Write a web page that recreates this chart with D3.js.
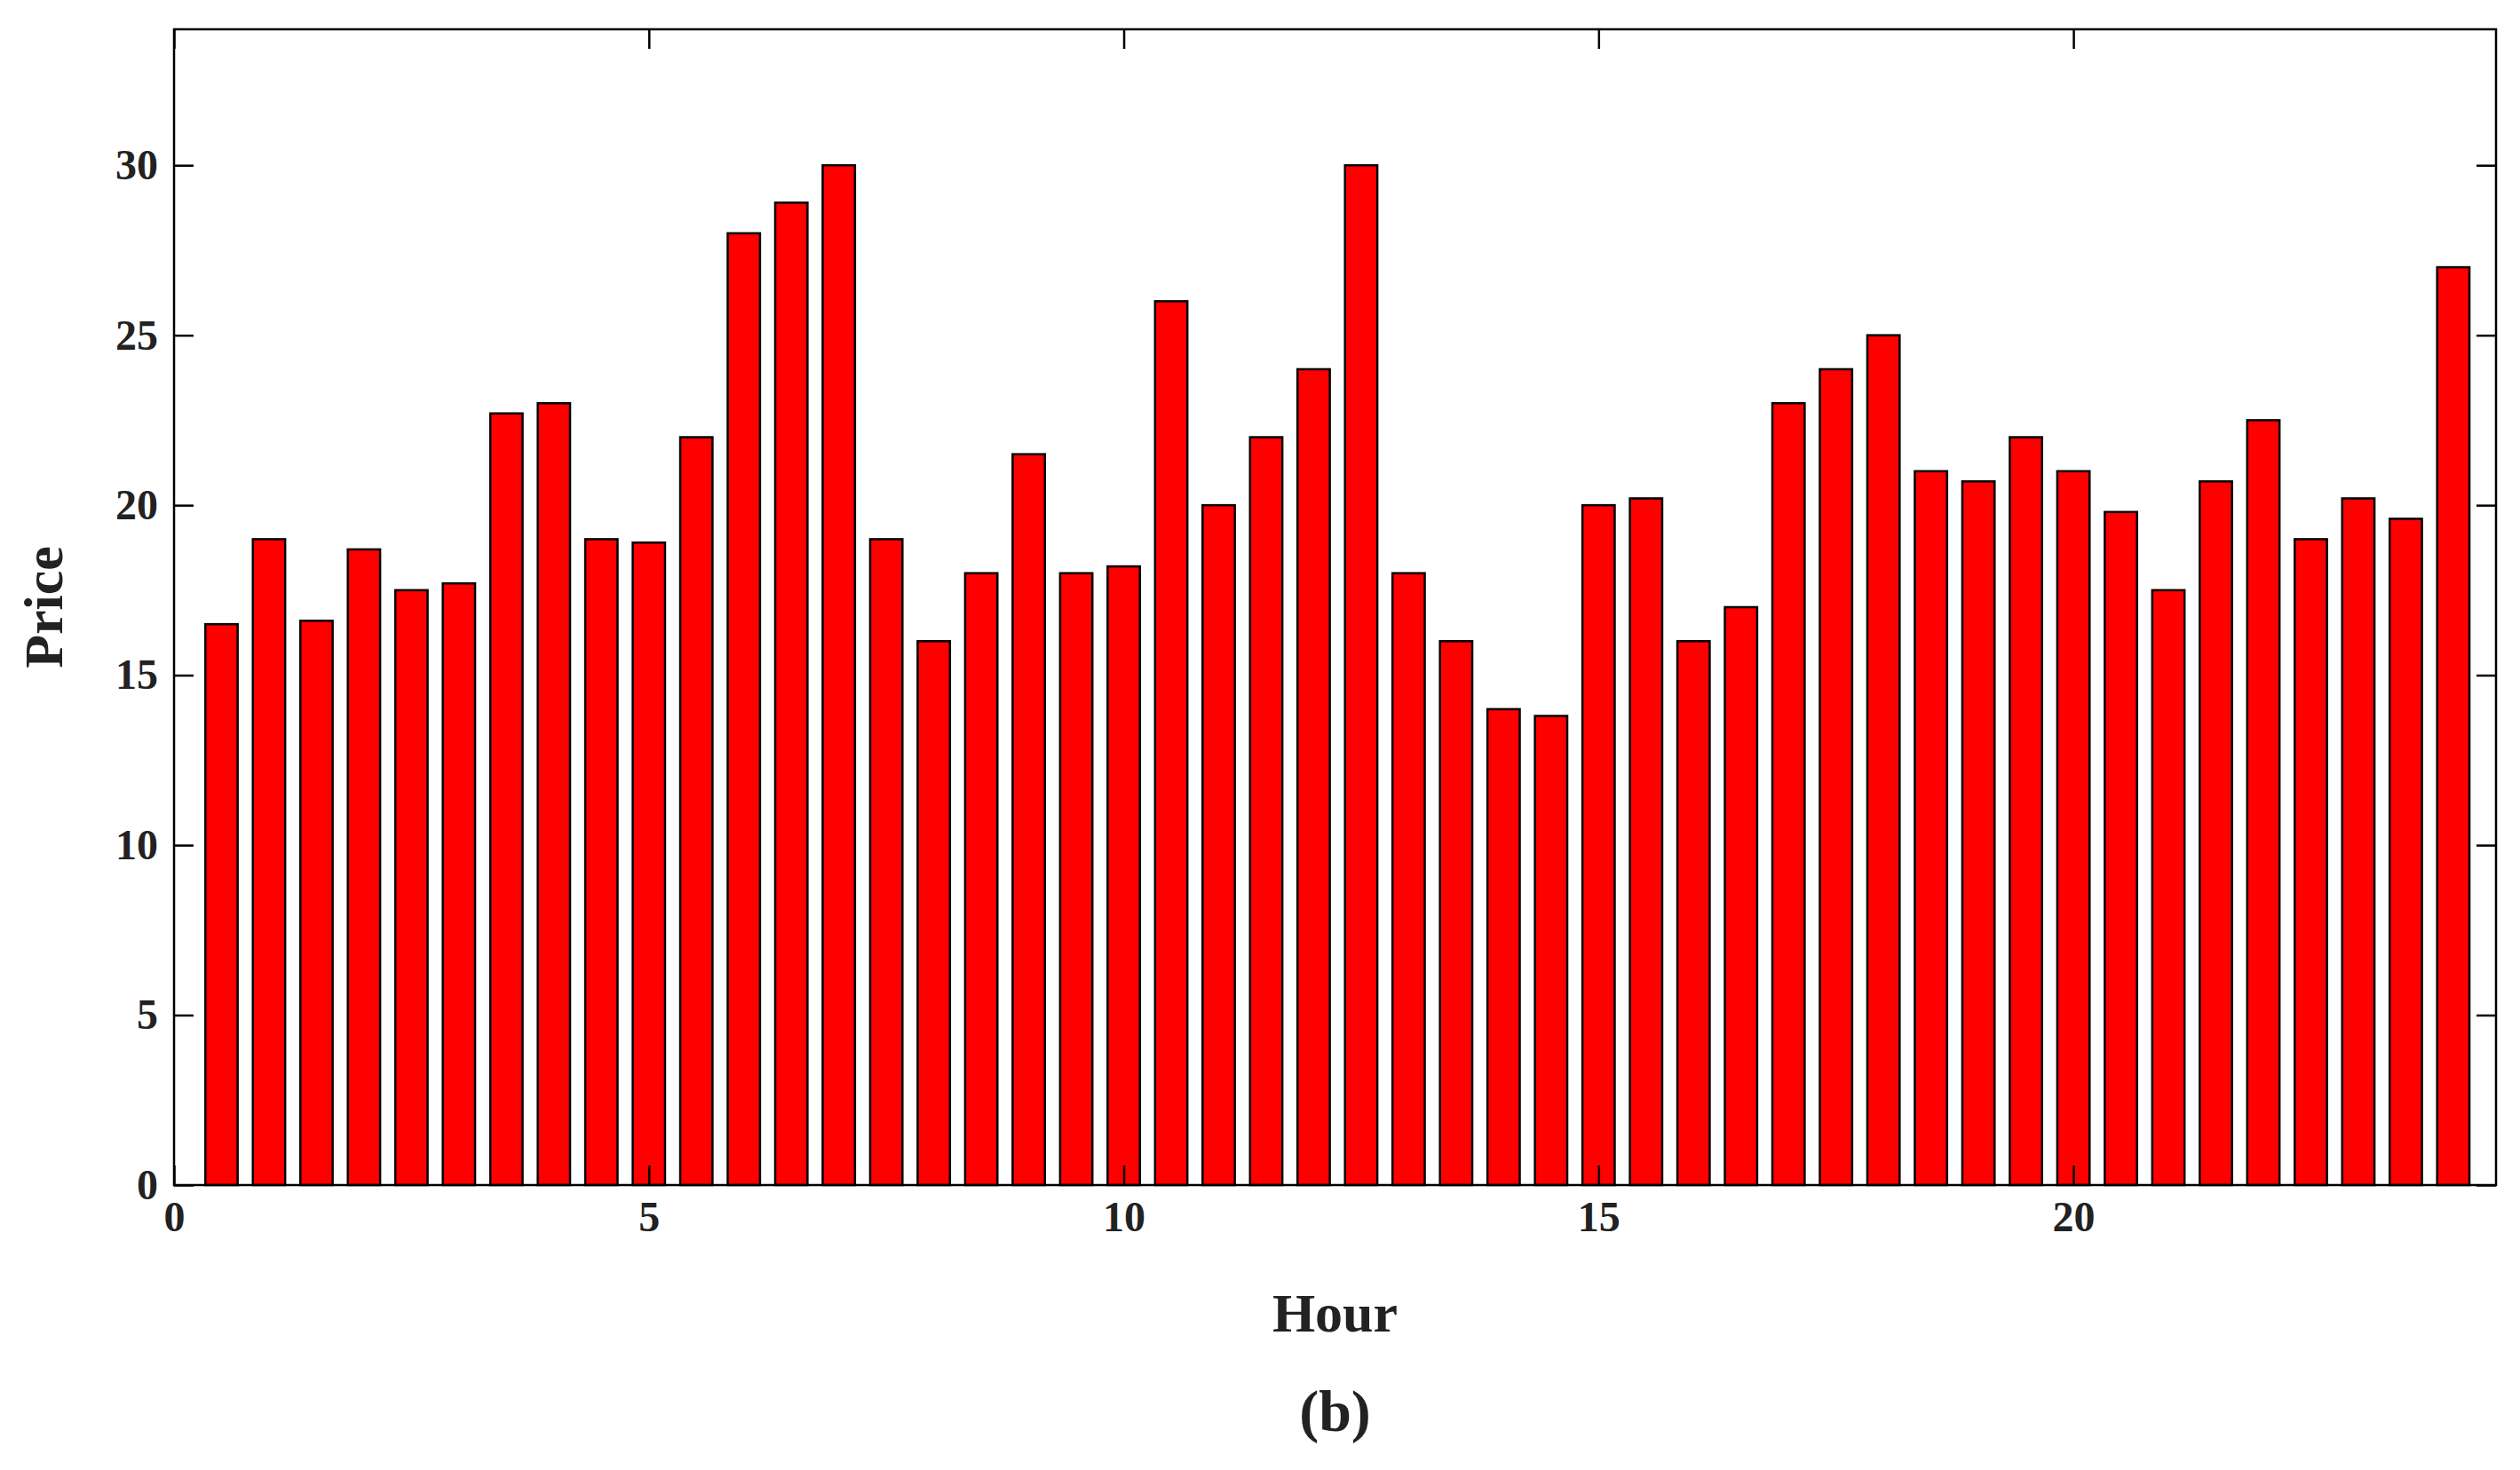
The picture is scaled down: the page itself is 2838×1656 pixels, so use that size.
<!DOCTYPE html><html><head><meta charset="utf-8">
<script src="https://cdn.jsdelivr.net/npm/d3@7"></script>
<style>body{margin:0;background:#fff}svg text{font-family:"Liberation Serif","Times New Roman",serif;font-weight:bold;fill:#222}</style>
</head><body><svg id="c" width="2838" height="1656"></svg><script>
const hours=d3.range(1,49).map(i=>i*0.5);
const prices=[16.5,19,16.6,18.7,17.5,17.7,22.7,23,19,18.9,22,28,28.9,30,19,16,18,21.5,18,18.2,26,20,22,24,30,18,16,14,13.8,20,20.2,16,17,23,24,25,21,20.7,22,21,19.8,17.5,20.7,22.5,19,20.2,19.6,27];
const xTicks=[0,5,10,15,20];
const yTicks=[0,5,10,15,20,25,30];
const svg=d3.select("#c");
const L=196,R=2811,T=33,B=1335;
const x=d3.scaleLinear().domain([0,24.45]).range([L,R]);
const y=d3.scaleLinear().domain([0,34]).range([B,T]);
const bw=x(0.34)-x(0);
svg.selectAll("rect.b").data(prices).enter().append("rect")
 .attr("x",(d,i)=>x(hours[i])-bw/2).attr("y",d=>y(d)).attr("width",bw).attr("height",d=>B-y(d))
 .attr("fill","#ff0000").attr("stroke","#000").attr("stroke-width",2.5);
svg.append("rect").attr("x",L).attr("y",T).attr("width",R-L).attr("height",B-T).attr("fill","none").attr("stroke","#000").attr("stroke-width",2.5);
const tl=22;
const gx=svg.append("g").attr("transform",`translate(0,${B})`).call(d3.axisBottom(x).tickValues(xTicks).tickSizeInner(-tl).tickSizeOuter(0).tickPadding(18));
const gxt=svg.append("g").attr("transform",`translate(0,${T})`).call(d3.axisTop(x).tickValues(xTicks).tickSizeInner(-tl).tickSizeOuter(0).tickFormat(""));
const gy=svg.append("g").attr("transform",`translate(${L},0)`).call(d3.axisLeft(y).tickValues(yTicks).tickSizeInner(-tl).tickSizeOuter(0).tickPadding(18));
const gyr=svg.append("g").attr("transform",`translate(${R},0)`).call(d3.axisRight(y).tickValues(yTicks).tickSizeInner(-tl).tickSizeOuter(0).tickFormat(""));
[gx,gxt,gy,gyr].forEach(g=>{g.select(".domain").remove();g.selectAll("line").attr("stroke","#000").attr("stroke-width",2.5);g.selectAll("text").style("font-size","48px").attr("fill","#222");});
svg.append("text").attr("x",(L+R)/2).attr("y",1500).attr("text-anchor","middle").style("font-size","62px").text("Hour");
svg.append("text").attr("transform",`translate(70,${(T+B)/2}) rotate(-90)`).attr("text-anchor","middle").style("font-size","62px").text("Price");
svg.append("text").attr("x",(L+R)/2).attr("y",1612).attr("text-anchor","middle").style("font-size","66px").text("(b)");
</script></body></html>
